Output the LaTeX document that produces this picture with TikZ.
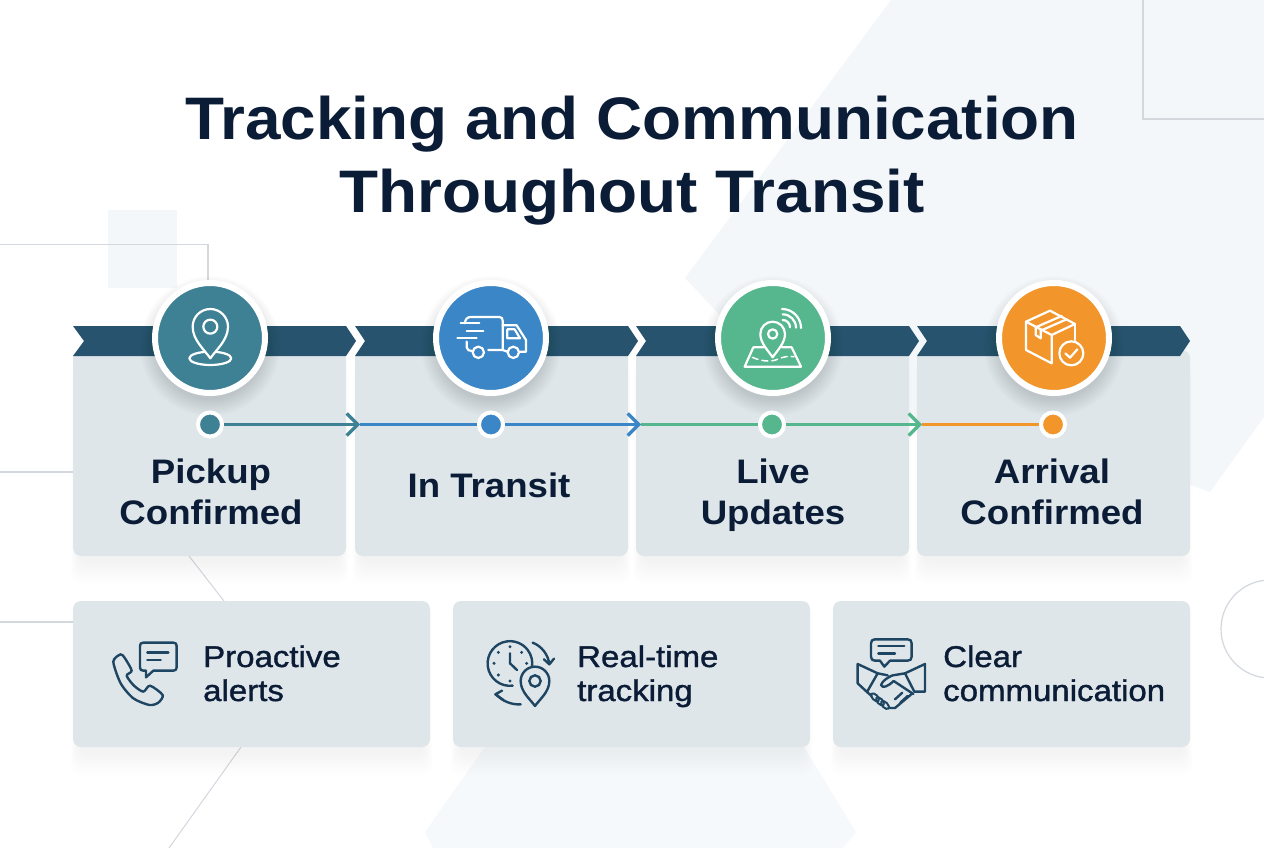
\documentclass[tikz,border=0pt]{standalone}
\usepackage{fontspec}
\setmainfont{Liberation Sans}
\usetikzlibrary{arrows.meta,shapes.geometric}
\definecolor{ink}{HTML}{0B1C36}
\definecolor{iconink}{HTML}{1E4562}
\definecolor{cardc}{HTML}{DFE6EA}
\definecolor{ribbonc}{HTML}{27536F}
\definecolor{bgshape}{HTML}{F4F7F9}
\definecolor{bgshapeb}{HTML}{F6F9FB}
\definecolor{thinline}{HTML}{D2D8DE}
\definecolor{cteal}{HTML}{3E8195}
\definecolor{cblue}{HTML}{3B86C6}
\definecolor{cgreen}{HTML}{56B78F}
\definecolor{corange}{HTML}{F2962B}
\tikzset{
  thinl/.style={draw=thinline,line width=1.2pt},
  bgpoly/.style={fill=bgshape,draw=none},
  ribbon/.style={fill=ribbonc,draw=none},
  topcard/.style={fill=cardc,draw=none},
  lowcard/.style={rectangle,fill=cardc,draw=none,rounded corners=8pt,minimum width=357pt,minimum height=146pt,inner sep=0pt},
  badge/.style={circle,draw=white,line width=6pt,minimum size=110pt,inner sep=0pt},
  dotn/.style={circle,draw=white,line width=4pt,minimum size=24pt,inner sep=0pt},
  link/.style={line width=3.2pt,-{Straight Barb[length=11pt,width=22pt,line width=3.2pt]}},
  plainlink/.style={line width=3.2pt},
  titlet/.style={anchor=base,text=ink,inner sep=0pt,font=\fontsize{60}{70}\selectfont\bfseries\addfontfeature{FakeStretch=1.064}},
  stept/.style={anchor=base,text=ink,inner sep=0pt,font=\fontsize{34}{40}\selectfont\bfseries\addfontfeature{FakeStretch=1.077}},
  lowt/.style={anchor=base west,text=ink,inner sep=0pt,font=\fontsize{30}{36}\selectfont\addfontfeature{FakeStretch=1.10,FakeBold=1.2}},
  iconw/.style={draw=white,line width=2.2pt,line cap=round,line join=round},
  icond/.style={draw=iconink,line width=2.4pt,line cap=round,line join=round},
  zoomed/.style={x=0.3333pt,y=-0.3333pt},
}
\newcommand{\softbox}[4]{%
  \foreach \k in {0,2,...,22}{%
    \fill[black,opacity=0.0035,rounded corners=10pt] (#1+6-\k*0.4,#2+10-\k*0.3) rectangle (#3-6+\k*0.4,#4+6+\k*1.0);
  }}
\newcommand{\softdisc}[2]{%
  \foreach \k in {0,2,...,20}{%
    \fill[black,opacity=0.010] (#1,#2+8) circle[radius=54+\k*0.8];
  }}
\newcommand{\pinpath}[5]{% cx, cy, r, tip y, options
  \path[#5] (#1,#4) .. controls (#1-0.35*#3,#4-0.28*#4+0.28*#2) and (#1-#3,#2+0.75*#3) .. (#1-#3,#2)
     .. controls (#1-#3,#2-0.55*#3) and (#1-0.55*#3,#2-#3) .. (#1,#2-#3)
     .. controls (#1+0.55*#3,#2-#3) and (#1+#3,#2-0.55*#3) .. (#1+#3,#2)
     .. controls (#1+#3,#2+0.75*#3) and (#1+0.35*#3,#4-0.28*#4+0.28*#2) .. (#1,#4) -- cycle;}
\begin{document}
\begin{tikzpicture}[x=1pt,y=-1pt]
\useasboundingbox (0,0) rectangle (1264,848);
\fill[white] (0,0) rectangle (1264,848);
% background shapes
\path[bgpoly] (891,0) -- (1264,0) -- (1264,417) -- (1210,492) -- (1150,470) -- (800,400) -- (685,278) -- cycle;
\path[bgpoly,fill=bgshapeb] (485,747) -- (804,747) -- (856,832) -- (843,848) -- (433,848) -- (425,832) -- cycle;
\fill[bgshape] (108,210) rectangle (177,288);
\draw[thinl] (1143,0) -- (1143,119) -- (1264,119);
\draw[thinl] (0,244.5) -- (208,244.5) -- (208,290);
\draw[thinl] (0,472) -- (73,472);
\draw[thinl] (0,622) -- (73,622);
\draw[thinl,line width=1pt] (189,556) -- (224,601);
\draw[thinl,line width=1pt] (241,747) -- (169,848);
\draw[thinl] (1270,629) circle[radius=49];
% shadows
\softbox{73}{360}{346}{556}\softbox{355}{360}{628}{556}\softbox{636}{360}{909}{556}\softbox{917}{360}{1190}{556}
\softbox{73}{601}{430}{747}\softbox{453}{601}{810}{747}\softbox{833}{601}{1190}{747}
% top cards
\foreach \a/\b in {73/346,355/628,636/909,917/1190}{
  \path[topcard,rounded corners=8pt] (\a,350) -- (\a,556) -- (\b,556) -- (\b,350) -- cycle;
}
% ribbons
\path[ribbon] (73,326) -- (346,326) -- (356,341) -- (346,356) -- (73,356) -- (84,341) -- cycle;
\path[ribbon] (355,326) -- (628,326) -- (638,341) -- (628,356) -- (355,356) -- (365,341) -- cycle;
\path[ribbon] (636,326) -- (909,326) -- (919,341) -- (909,356) -- (636,356) -- (646,341) -- cycle;
\path[ribbon] (917,326) -- (1180,326) -- (1190,341) -- (1180,356) -- (917,356) -- (927,341) -- cycle;
% badges
\softdisc{210}{338}\softdisc{491}{338}\softdisc{773}{338}\softdisc{1054}{338}
\node[badge,fill=cteal] (b1) at (210,338) {};
\node[badge,fill=cblue] (b2) at (491,338) {};
\node[badge,fill=cgreen] (b3) at (773,338) {};
\node[badge,fill=corange] (b4) at (1054,338) {};
% timeline
\coordinate (m1) at (360,424.5);
\coordinate (m2) at (641,424.5);
\coordinate (m3) at (922,424.5);
\node[dotn,fill=cteal] (d1) at (210,424.5) {};
\node[dotn,fill=cblue] (d2) at (491,424.5) {};
\node[dotn,fill=cgreen] (d3) at (772,424.5) {};
\node[dotn,fill=corange] (d4) at (1053,424.5) {};
\draw[plainlink,cblue] (m1) -- (d2);
\draw[plainlink,cgreen] (m2) -- (d3);
\draw[plainlink,corange] (m3) -- (d4);
\draw[link,cteal] (d1) -- (m1);
\draw[link,cblue] (d2) -- (m2);
\draw[link,cgreen] (d3) -- (m3);
% title
\node[titlet] (t1) at (632,140) {Tracking and Communication};
\node[titlet] (t2) at (632,212) {Throughout Transit};
% step labels
\node[stept] (s1a) at (211,483) {Pickup};
\node[stept] (s1b) at (211,524) {Confirmed};
\node[stept] (s2) at (489,497) {In Transit};
\node[stept] (s3a) at (773,483) {Live};
\node[stept] (s3b) at (773,524) {Updates};
\node[stept] (s4a) at (1052,483) {Arrival};
\node[stept] (s4b) at (1052,524) {Confirmed};
% lower cards
\node[lowcard] (c1) at (251.5,674) {};
\node[lowcard] (c2) at (631.5,674) {};
\node[lowcard] (c3) at (1011.5,674) {};
\node[lowt] (l1a) at (203,667) {Proactive};
\node[lowt] (l1b) at (203,701) {alerts};
\node[lowt] (l2a) at (577,667) {Real-time};
\node[lowt] (l2b) at (577,701) {tracking};
\node[lowt] (l3a) at (943,667) {Clear};
\node[lowt] (l3b) at (943,701) {communication};
% icon 1: pin on disc
\begin{scope}[zoomed,shift={(60pt,-270pt)}]
  \draw[iconw] (451,265) ellipse[x radius=63,y radius=20];
  \pinpath{451}{170}{53}{265}{iconw,fill=cteal}
  \draw[iconw] (451,170) circle[radius=21];
\end{scope}
% icon 2: truck
\begin{scope}[zoomed,shift={(420pt,-270pt)}]
  \draw[iconw] (135,160) .. controls (135,148) and (142,141) .. (152,141) -- (238,141) .. controls (245,141) and (248,145) .. (248,152) -- (248,240) -- (205,240);
  \draw[iconw] (248,166) -- (290,166) -- (318,210) -- (318,245) -- (298,245);
  \draw[iconw] (262,245) -- (248,240);
  \draw[iconw] (262,178) -- (284,178) -- (300,205) -- (262,205) -- cycle;
  \draw[iconw] (140,215) -- (140,232) .. controls (140,240) and (148,243) .. (156,243);
  \draw[iconw] (175,247) circle[radius=17];
  \draw[iconw] (280,247) circle[radius=17];
  \draw[iconw] (122,160) -- (178,160);
  \draw[iconw] (140,183) -- (190,183);
  \draw[iconw] (112,204) -- (170,204);
\end{scope}
% icon 3: live map
\begin{scope}[zoomed,shift={(690pt,-270pt)}]
  \draw[iconw] (222,232) -- (190,232) -- (164,290) -- (333,290) -- (305,232) -- (276,232);
  \draw[iconw,line width=1.5pt,dash pattern=on 6pt off 4pt] (187,262) .. controls (210,272) and (240,278) .. (262,268) .. controls (280,260) and (295,258) .. (312,260);
  \pinpath{248}{192}{37}{262}{iconw,fill=cgreen}
  \draw[iconw] (248,192) circle[radius=14];
  \draw[iconw] (278,150) arc (270:360:22);
  \draw[iconw] (278,133) arc (270:360:40);
  \draw[iconw] (276,117) arc (270:360:57);
\end{scope}
% icon 4: parcel
\begin{scope}[zoomed,shift={(970pt,-270pt)}]
  \draw[iconw] (240,122) -- (315,162) -- (245,195) -- (168,155) -- cycle;
  \draw[iconw] (168,155) -- (168,240) -- (245,280) -- (245,195);
  \draw[iconw] (315,162) -- (315,210);
  \draw[iconw] (197,172) -- (275,138);
  \draw[iconw] (212,182) -- (290,148);
  \draw[iconw] (197,172) -- (197,195) -- (212,205) -- (212,182);
  \draw[iconw] (304,250) circle[radius=36];
  \draw[iconw] (286,250) -- (300,263) -- (322,238);
\end{scope}
% low icon 1: phone and bubble
\begin{scope}[zoomed,shift={(90pt,-620pt)}]
  \draw[icond] (160,68) -- (250,68) .. controls (257,68) and (260,71) .. (260,78) -- (260,142) .. controls (260,149) and (257,152) .. (250,152) -- (190,152) -- (168,172) -- (168,152) -- (160,152) .. controls (153,152) and (150,149) .. (150,142) -- (150,78) .. controls (150,71) and (153,68) .. (160,68) -- cycle;
  \draw[icond] (172,98) -- (235,98);
  \draw[icond] (172,120) -- (212,120);
  \draw[icond] plot[smooth cycle,tension=0.45] coordinates {(70,125) (92,103) (105,115) (125,152) (110,167) (132,197) (160,215) (180,197) (218,225) (205,248) (178,255) (130,235) (92,190)};
\end{scope}
% low icon 2: clock and pin
\begin{scope}[zoomed,shift={(470pt,-620pt)}]
  \draw[icond] (128,197) arc (83:370:67);
  \fill[iconink] (120,80) circle[radius=5] (155,97) circle[radius=5] (170,130) circle[radius=5] (85,97) circle[radius=5] (72,130) circle[radius=5] (85,165) circle[radius=5] (120,183) circle[radius=5];
  \draw[icond] (120,100) -- (120,130) -- (141,150);
  \pinpath{195}{183}{43}{258}{icond,fill=cardc}
  \draw[icond] (195,183) circle[radius=17];
  \draw[icond] (188,68) .. controls (215,78) and (235,105) .. (238,132);
  \draw[icond] (222,118) -- (238,133) -- (252,116);
  \draw[icond] (152,253) .. controls (125,255) and (95,243) .. (78,222);
  \draw[icond] (96,212) -- (76,223) -- (100,240);
\end{scope}
% low icon 3: handshake and bubble
\begin{scope}[zoomed,shift={(845pt,-620pt)}]
  \draw[icond] (90,58) -- (188,58) .. controls (196,58) and (200,62) .. (200,70) -- (200,110) .. controls (200,118) and (196,122) .. (188,122) -- (135,122) -- (118,140) -- (105,122) -- (90,122) .. controls (82,122) and (78,118) .. (78,110) -- (78,70) .. controls (78,62) and (82,58) .. (90,58) -- cycle;
  \draw[icond] (100,78) -- (178,78);
  \draw[icond] (100,100) -- (150,100);
  \draw[icond] (38,132) -- (98,160) -- (66,216) -- (38,190) -- cycle;
  \draw[icond] (240,132) -- (180,160) -- (208,215) -- (240,215) -- cycle;
  \draw[icond] (98,160) -- (128,166);
  \draw[icond] (180,160) -- (150,165) .. controls (135,165) and (110,185) .. (108,195) .. controls (112,206) and (128,200) .. (146,183) -- (205,222);
  \draw[icond] (66,216) -- (80,228);
  \draw[icond,line width=2pt] (90,232) ellipse[x radius=15,y radius=8,rotate=-45];
  \draw[icond,line width=2pt] (105,244) ellipse[x radius=15,y radius=8,rotate=-45];
  \draw[icond,line width=2pt] (120,255) ellipse[x radius=15,y radius=8,rotate=-45];
  \draw[icond] (133,264) -- (150,264) -- (200,222);
  \draw[icond] (150,238) -- (172,218);
  \draw[icond] (166,248) -- (188,228);
\end{scope}
\end{tikzpicture}
\end{document}
